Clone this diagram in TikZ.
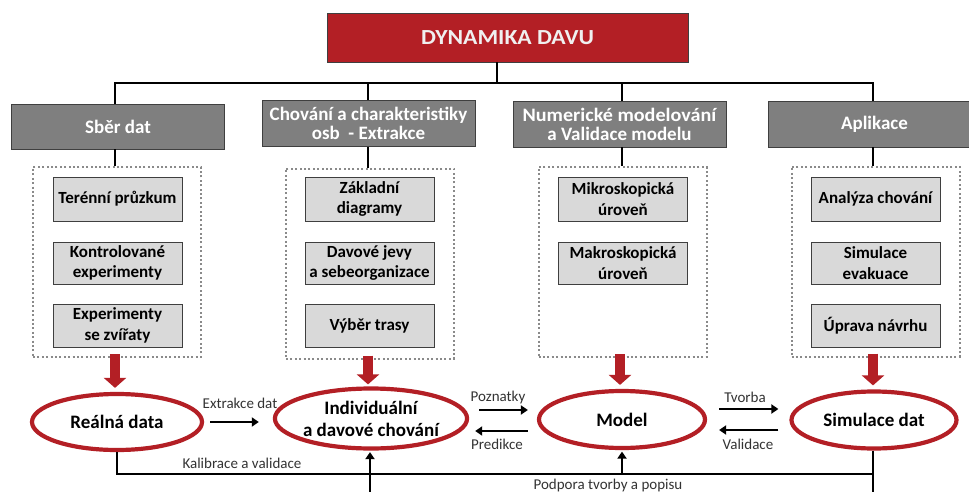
\documentclass[tikz,border=0pt]{standalone}
\usepackage{fontspec}
\setmainfont{Carlito}
\usetikzlibrary{arrows.meta,shapes.geometric,calc}

\definecolor{crowdred}{HTML}{B31F25}
\definecolor{catgray}{HTML}{7F7F7F}
\definecolor{itemgray}{HTML}{D9D9D9}
\definecolor{edgegray}{HTML}{3F3F3F}
\definecolor{dotgray}{HTML}{8A8A8A}
\definecolor{labelgray}{HTML}{333333}

\tikzset{
  titlebox/.style={draw=edgegray, line width=0.8pt, fill=crowdred, text=white!94!black,
    minimum width=361pt, minimum height=49pt, inner sep=0pt,
    font=\bfseries\fontsize{21.5}{24}\selectfont},
  catbox/.style={draw=edgegray, line width=0.8pt, fill=catgray, text=white,
    minimum width=213pt, minimum height=46pt, inner sep=0pt, align=center,
    font=\bfseries\fontsize{19}{20}\selectfont},
  groupbox/.style={draw=dotgray, line width=2pt, dash pattern=on 2pt off 2.4pt,
    minimum width=168pt, minimum height=190pt, inner sep=0pt},
  itembox/.style={draw=edgegray, line width=0.9pt, fill=itemgray, text=black,
    minimum width=129pt, minimum height=43pt, inner sep=0pt, align=center,
    font=\bfseries\fontsize{17}{20.5}\selectfont},
  stage/.style={ellipse, draw=crowdred, line width=4.2pt, fill=white, text=black,
    minimum width=168pt, minimum height=57pt, inner sep=0pt, align=center,
    font=\bfseries\fontsize{19}{22}\selectfont},
  conn/.style={draw=black, line width=2pt},
  arr/.style={draw=black, line width=2.4pt, -{Triangle[length=7pt,width=9pt]}},
  redarr/.style={draw=crowdred, line width=10pt, -{Triangle[length=10pt,width=22pt]}},
  lbl/.style={text=labelgray, inner sep=0pt, font=\fontsize{15}{17}\selectfont},
}

\begin{document}
\begin{tikzpicture}[x=1pt,y=-1pt]
\clip (0,0) rectangle (969,492);
\fill[white] (0,0) rectangle (969,492);

% title
\node[titlebox] (title) at (507.5,37.5) {\scalebox{1.1}[1]{DYNAMIKA DAVU}};

% four branches
\node[catbox, minimum height=45pt] (cat1) at (118,126.5) {Sběr dat};
\node[catbox] (cat2) at (368.5,123.5) {Chování a charakteristiky\\[-1pt]osb\ \ - Extrakce};
\node[catbox] (cat3) at (619.5,124) {\scalebox{1.06}[1]{Numerické modelování}\\[-1pt]a Validace modelu};
\node[catbox] (cat4) at (874.5,124) {Aplikace};

% tree connectors
\coordinate (busL) at (115,83);
\coordinate (busR) at (873,83);
\coordinate (titleFoot) at (497,62);
\draw[conn] (titleFoot) -- (titleFoot |- busL);
\draw[conn] (cat1.north -| busL) -- (busL) -- (busR) -- (cat4.north -| busR);
\draw[conn] (cat2.north -| 368,0) -- (368,83);
\draw[conn] (cat3.north -| 622,0) -- (622,83);

% dotted groups
\node[groupbox] (grp1) at (117,262) {};
\node[groupbox] (grp2) at (370,263.5) {};
\node[groupbox] (grp3) at (622.5,262) {};
\node[groupbox] (grp4) at (875.5,261.5) {};

\draw[conn] (cat1.south -| busL) -- (grp1.north -| busL);
\draw[conn] (cat2.south -| 368,0) -- (grp2.north -| 368,0);
\draw[conn] (cat3.south -| 622,0) -- (grp3.north -| 622,0);
\draw[conn] (cat4.south -| busR) -- (grp4.north -| busR);

% items
\node[itembox, minimum height=44pt] (i11) at (117.5,199) {Terénní průzkum};
\node[itembox, minimum height=42pt] (i12) at (117.5,263) {Kontrolované\\experimenty};
\node[itembox] (i13) at (117.5,325.5) {Experimenty\\se zvířaty};

\node[itembox, minimum height=44pt] (i21) at (369.5,199) {Základní\\diagramy};
\node[itembox, minimum height=42pt] (i22) at (369.5,263) {Davové jevy\\a sebeorganizace};
\node[itembox] (i23) at (369.5,325.5) {Výběr trasy};

\node[itembox, minimum height=44pt] (i31) at (623,199) {Mikroskopická\\úroveň};
\node[itembox, minimum height=42pt] (i32) at (623,263) {Makroskopická\\úroveň};

\node[itembox, minimum height=44pt] (i41) at (875.5,199) {Analýza chování};
\node[itembox, minimum height=42pt] (i42) at (875.5,263) {Simulace\\evakuace};
\node[itembox] (i43) at (875.5,325.5) {Úprava návrhu};

% stages
\node[stage, minimum width=170pt, minimum height=56pt] (rd) at (117,422) {Reálná data};
\node[stage, minimum width=169pt, minimum height=60pt] (ind) at (371,418.5) {Individuální\\a davové chování};
\node[stage, minimum width=166pt] (model) at (622,419.5) {Model};
\node[stage, minimum width=165pt] (sim) at (874,420) {Simulace dat};

% red arrows from the groups down to the stages
\draw[redarr] ([yshift=4pt]grp1.south -| 115,0) -- ($(rd.north -| 115,0)+(0,-4)$);
\draw[redarr] ([yshift=4pt]grp2.south -| 368,0) -- ($(ind.north -| 368,0)+(0,-2)$);
\draw[redarr] ([yshift=4pt]grp3.south -| 620,0) -- ($(model.north -| 620,0)+(0,-4)$);
\draw[redarr] ([yshift=4pt]grp4.south -| 873,0) -- ($(sim.north -| 873,0)+(0,-4)$);

% arrows between stages
\draw[arr] ($(rd.east)+(6,0)$) -- ($(rd.east -| ind.west)+(-14,0)$);
\node[lbl] (lExt) at (240,403) {Extrakce dat};

\draw[arr] ($(ind.east)+(10,-8.5)$) -- ($(ind.east -| model.west)+(-9,-8.5)$);
\draw[arr] ($(ind.east -| model.west)+(-9,12.5)$) -- ($(ind.east)+(6,12.5)$);
\node[lbl] (lPoz) at (498,397) {Poznatky};
\node[lbl] (lPre) at (497,444) {Predikce};

\draw[arr] ($(model.east)+(12,-10.5)$) -- ($(model.east -| sim.west)+(-11,-10.5)$);
\draw[arr] ($(model.east -| sim.west)+(-11,10.5)$) -- ($(model.east)+(12,10.5)$);
\node[lbl] (lTvo) at (745,397) {Tvorba};
\node[lbl] (lVal) at (748,444) {Validace};

% feedback lines along the bottom
\coordinate (feedR) at (873,474);
\coordinate (simFoot) at (873,492);
\coordinate (indFoot) at (370,492);
\draw[conn] (rd.south) |- (feedR);
\draw[conn] (sim.south -| feedR) -- (simFoot);
\draw[arr, shorten >=1.5pt] (model.south |- feedR) -- (model.south);
\draw[arr, shorten >=1.5pt] (indFoot) -- (ind.south -| indFoot);
\node[lbl] (lKal) at (242,463) {Kalibrace a validace};
\node[lbl] (lPod) at (608,485) {Podpora tvorby a popisu};
\end{tikzpicture}
\end{document}
